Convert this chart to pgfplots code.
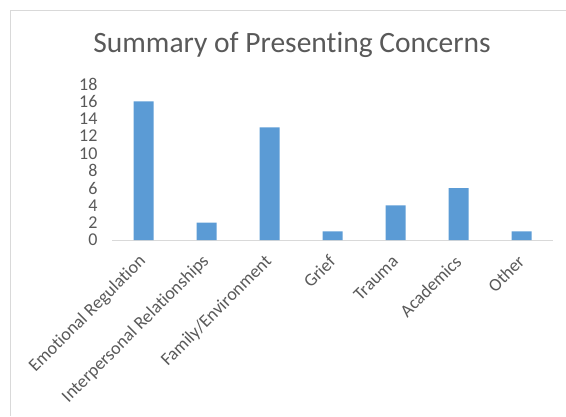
\documentclass[border=0pt]{standalone}
\usepackage{pgfplots}
\pgfplotsset{compat=1.18}
\usepackage{fontspec}
\setmainfont{Carlito}[Ligatures=NoCommon]
\definecolor{bar}{HTML}{5B9BD5}
\definecolor{txt}{HTML}{595959}
\definecolor{grid}{HTML}{D9D9D9}
\begin{document}
\begin{tikzpicture}[x=1bp,y=1bp]
\useasboundingbox (0,0) rectangle (566,416);
\draw[grid, line width=1bp] (10.5,0) -- (10.5,405.5) -- (566,405.5);
\node[anchor=base, text=txt, font=\fontsize{29.5bp}{32bp}\selectfont] at (292,364) {Summary of Presenting Concerns};
\begin{axis}[
  at={(112bp,176bp)}, anchor=south west,
  scale only axis, width=441bp, height=156bp,
  xmin=-0.5, xmax=6.5, ymin=0, ymax=18,
  ytick={0,2,...,18},
  xtick=data,
  xticklabels={Emotional Regulation,Interpersonal Relationships,Family/Environment,Grief,Trauma,Academics,Other},
  axis x line*=bottom, axis y line*=left,
  x axis line style={grid, line width=1bp, -},
  y axis line style={draw=none},
  major tick length=0pt,
  tick style={draw=none},
  ticklabel style={text=txt, font=\fontsize{18bp}{20bp}\selectfont},
  yticklabel style={anchor=east, xshift=-11bp},
  xticklabel style={rotate=45, anchor=east, xshift=-10bp, yshift=-13bp},
  /pgf/number format/assume math mode=true,
  clip=false,
]
\addplot[ybar, bar width=20bp, fill=bar, draw=none] coordinates {
(0,16) (1,2) (2,13) (3,1) (4,4) (5,6) (6,1)};
\end{axis}
\end{tikzpicture}
\end{document}
